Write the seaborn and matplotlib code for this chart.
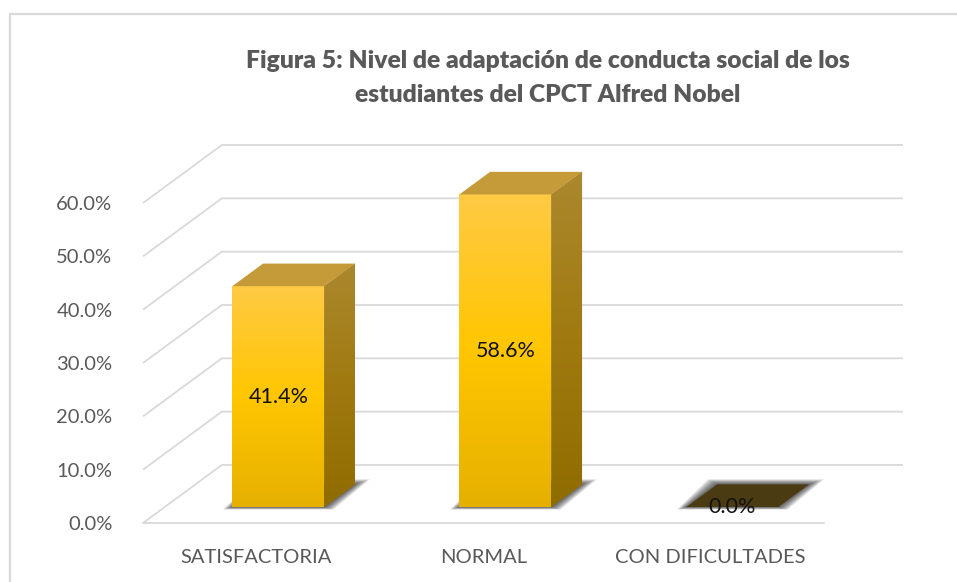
import matplotlib
matplotlib.use("Agg")
import matplotlib.pyplot as plt
import numpy as np
import pandas as pd
import seaborn as sns
from matplotlib.colors import LinearSegmentedColormap
from matplotlib.patches import Polygon, Rectangle

# Data
categories = ["SATISFACTORIA", "NORMAL", "CON DIFICULTADES"]
values = [41.4, 58.6, 0.0]
yticks = [0, 10, 20, 30, 40, 50, 60]
title = "Figura 5: Nivel de adaptación de conducta social de los\nestudiantes del CPCT Alfred Nobel"

df = pd.DataFrame({"nivel": categories, "pct": values})

# oblique "3D" geometry in data units
DEPTH_X, DEPTH_Y = 0.347, 10.88      # full floor depth
FRONT = 0.276                         # bar front position in depth
BAR_DEPTH = 0.39                      # bar depth as share of floor depth
GRID = "#d9d9d9"
TXT = "#595959"

sns.set_theme(style="white")
plt.rcParams["font.family"] = ["Lato", "DejaVu Sans"]

fig = plt.figure(figsize=(9.57, 5.82), dpi=100)
ax = fig.add_axes([143 / 957, 1 - 523 / 582, 760 / 957, 378 / 582])
ax.set_facecolor("none")

# chart border (only left and top visible in the crop)
fig.add_artist(Rectangle((10 / 957, -0.2), 1.2, 1.2 - 14 / 582, transform=fig.transFigure,
                         fill=False, edgecolor=GRID, lw=1.6))

sns.barplot(data=df, x="nivel", y="pct", ax=ax, width=0.405, color="#ffc600",
            edgecolor="none", zorder=3)

# walls: diagonal + back line for each gridline
xmin, xmax = -0.5, len(categories) - 0.5
for v in yticks:
    ax.plot([xmin, xmin + DEPTH_X, xmax + DEPTH_X], [v, v + DEPTH_Y, v + DEPTH_Y],
            color=GRID, lw=1.3, zorder=1, clip_on=False, solid_capstyle="butt")
ax.plot([xmin, xmax], [0, 0], color=GRID, lw=1.3, zorder=1, clip_on=False)

front_cmap = LinearSegmentedColormap.from_list("f", ["#e6b000", "#ffc600", "#ffca45"])
side_cmap = LinearSegmentedColormap.from_list("s", ["#8f6c00", "#a07a10", "#ab882e"])
grad = np.linspace(0, 1, 256).reshape(-1, 1)

fx, fy = FRONT * DEPTH_X, FRONT * DEPTH_Y
bx, by = BAR_DEPTH * DEPTH_X, BAR_DEPTH * DEPTH_Y

for patch, val in zip(ax.patches, values):
    patch.set_x(patch.get_x() + fx)
    patch.set_y(fy)
    x0 = patch.get_x()
    x1 = x0 + patch.get_width()
    y0 = fy
    y1 = fy + val

    # soft shadow on the floor, many faint layers
    for k in range(14):
        mx = 0.003 * (k + 1)
        my = 0.07 * (k + 1)
        shadow = Polygon([(x0 - mx, y0 - my * 0.5), (x1 + mx, y0 - my * 0.5),
                          (x1 + bx + mx * 1.6, y0 + by + my), (x0 + bx - mx, y0 + by + my)],
                         closed=True, facecolor="black", edgecolor="none", alpha=0.06, zorder=2)
        ax.add_patch(shadow)

    if val > 0:
        ax.imshow(grad, extent=[x0, x1, y0, y1], origin="lower", aspect="auto",
                  cmap=front_cmap, zorder=4, clip_path=patch)
        side = Polygon([(x1, y0), (x1 + bx, y0 + by), (x1 + bx, y1 + by), (x1, y1)],
                       closed=True, facecolor="#9c7810", edgecolor="none", zorder=4)
        ax.add_patch(side)
        im = ax.imshow(grad, extent=[x1, x1 + bx, y0, y1 + by], origin="lower",
                       aspect="auto", cmap=side_cmap, zorder=4)
        im.set_clip_path(side)
        top_color = "#c59b3a"
    else:
        top_color = "#4a3b13"
    top = Polygon([(x0, y1), (x1, y1), (x1 + bx, y1 + by), (x0 + bx, y1 + by)],
                  closed=True, facecolor=top_color, edgecolor="none", zorder=5)
    ax.add_patch(top)

    ax.text((x0 + x1) / 2, y0 + val / 2, f"{val:.1f}%", ha="center", va="center",
            fontsize=15.5, color="#111111", zorder=6)

ax.set_xlim(xmin, xmax + DEPTH_X)
ax.set_ylim(0, 60 + DEPTH_Y)
ax.set_yticks(yticks)
ax.set_yticklabels([f"{v:.1f}%" for v in yticks])
ax.set_xlabel("")
ax.set_ylabel("")
ax.tick_params(axis="y", length=0, pad=22, labelsize=14.5, labelcolor=TXT)
ax.tick_params(axis="x", length=0, pad=19, labelsize=14.5, labelcolor=TXT)
sns.despine(ax=ax, left=True, bottom=True)

fig.text(548 / 957, 1 - 78 / 582, title, ha="center", va="center", fontsize=17.7,
         fontweight="heavy", color=TXT, linespacing=1.72)

fig.savefig("out.png", dpi=100)
